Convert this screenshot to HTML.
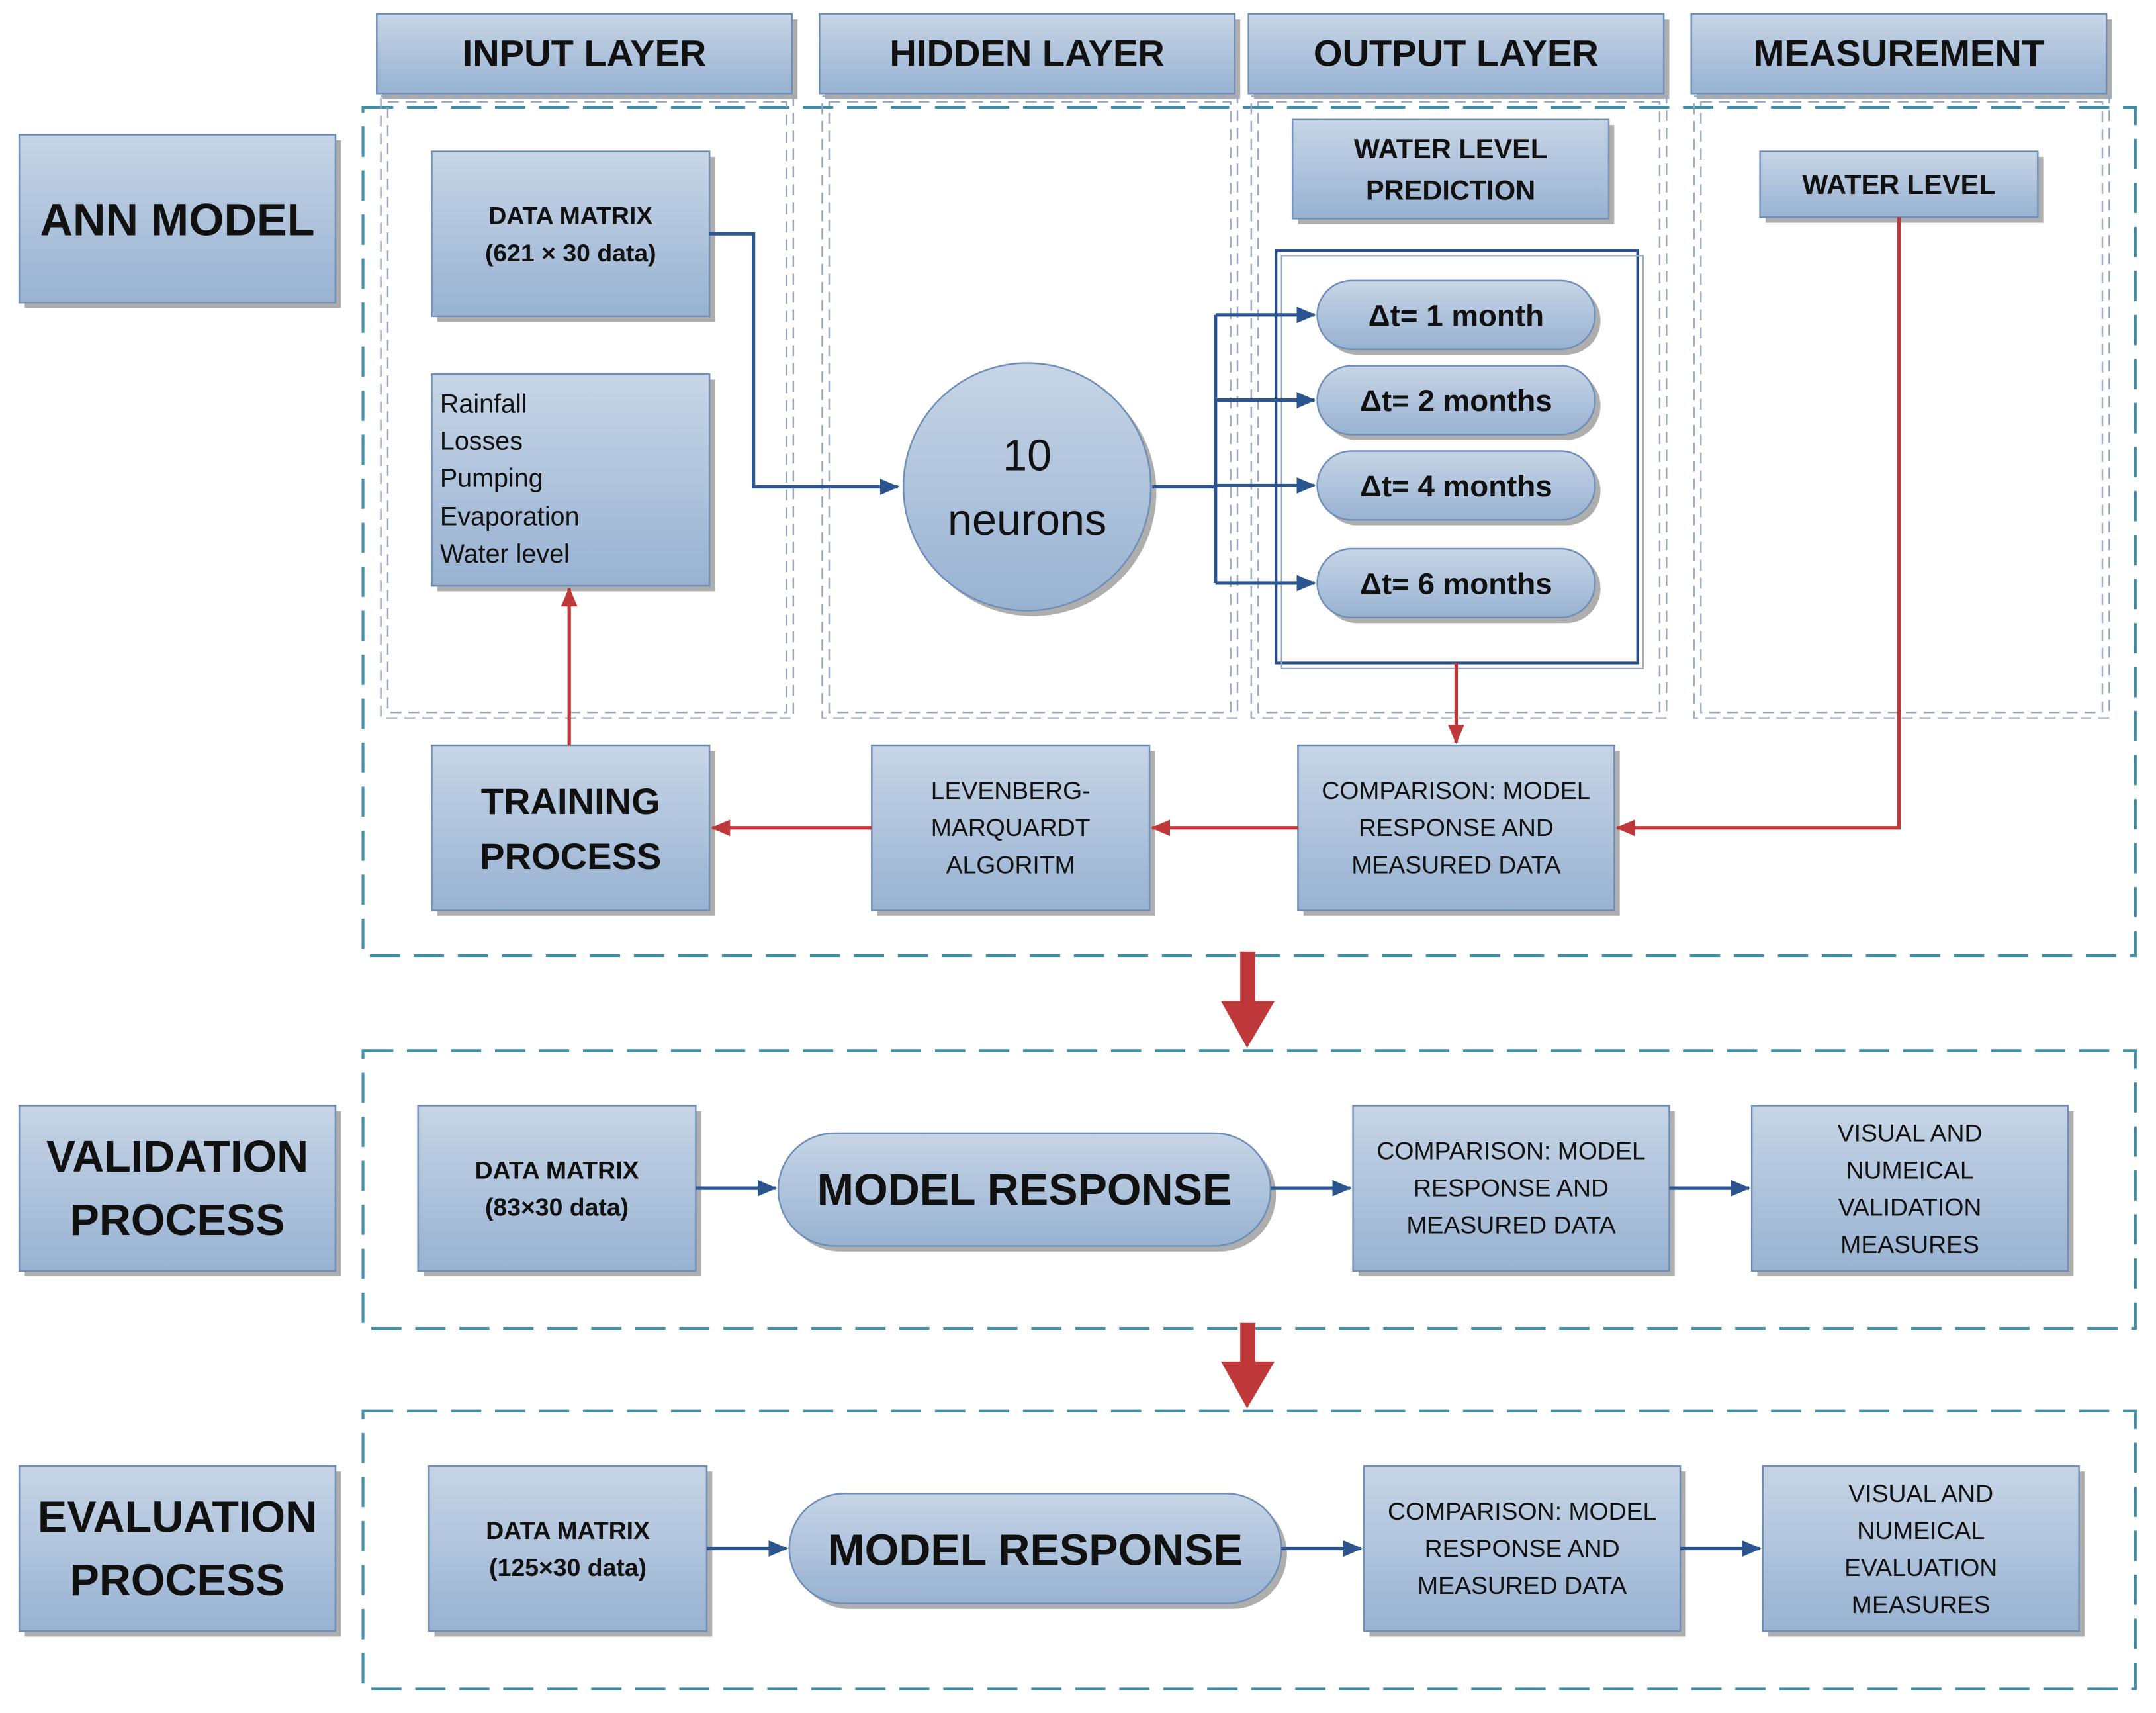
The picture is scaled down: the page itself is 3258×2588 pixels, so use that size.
<!DOCTYPE html>
<html><head><meta charset="utf-8"><style>
html,body{margin:0;padding:0;background:#fff;width:3258px;height:2588px;overflow:hidden}
svg{display:block}
text{font-family:"Liberation Sans",sans-serif;fill:#111;text-anchor:middle}
</style></head><body>
<svg width="3258" height="2588" viewBox="0 0 1568 1245.6" preserveAspectRatio="none" xmlns="http://www.w3.org/2000/svg">
<defs>
<linearGradient id="g" x1="0" y1="0" x2="0" y2="1"><stop offset="0" stop-color="#c7d5e6"/><stop offset="1" stop-color="#98b2d2"/></linearGradient>
<marker id="ab" markerWidth="14" markerHeight="12" refX="13" refY="6" orient="auto" markerUnits="userSpaceOnUse"><path d="M0,0 L14,6 L0,12 Z" fill="#2c5590"/></marker>
<marker id="ar" markerWidth="14" markerHeight="12" refX="13" refY="6" orient="auto" markerUnits="userSpaceOnUse"><path d="M0,0 L14,6 L0,12 Z" fill="#c0393a"/></marker>
</defs>
<g fill="#9a9a9a" opacity="0.8">
<rect x="278" y="14" width="302" height="58"/><rect x="600" y="14" width="302" height="58"/><rect x="912" y="14" width="302" height="58"/><rect x="1234" y="14" width="302" height="58"/>
<rect x="18" y="102" width="230" height="122"/>
<rect x="318" y="114" width="202" height="120"/><rect x="318" y="276" width="202" height="154"/>
<rect x="944" y="91" width="230" height="72"/><rect x="1284" y="114" width="202" height="48"/>
<rect x="318" y="546" width="202" height="120"/><rect x="638" y="546" width="202" height="120"/><rect x="948" y="546" width="230" height="120"/>
<rect x="18" y="808" width="230" height="120"/><rect x="308" y="808" width="202" height="120"/><rect x="988" y="808" width="230" height="120"/><rect x="1278" y="808" width="230" height="120"/>
<rect x="18" y="1070" width="230" height="120"/><rect x="316" y="1070" width="202" height="120"/><rect x="996" y="1070" width="230" height="120"/><rect x="1286" y="1070" width="230" height="120"/>
<circle cx="751" cy="358" r="90"/>
<rect x="962" y="208" width="202" height="50" rx="25"/><rect x="962" y="270" width="202" height="50" rx="25"/><rect x="962" y="332" width="202" height="50" rx="25"/><rect x="962" y="403" width="202" height="50" rx="25"/>
<rect x="570" y="828" width="358" height="82" rx="41"/><rect x="578" y="1090" width="358" height="80" rx="40"/>
</g>
<g fill="url(#g)" stroke="#6f8fb8" stroke-width="1.2">
<rect x="274" y="10" width="302" height="58"/><rect x="596" y="10" width="302" height="58"/><rect x="908" y="10" width="302" height="58"/><rect x="1230" y="10" width="302" height="58"/>
<rect x="14" y="98" width="230" height="122"/>
<rect x="314" y="110" width="202" height="120"/><rect x="314" y="272" width="202" height="154"/>
<rect x="940" y="87" width="230" height="72"/><rect x="1280" y="110" width="202" height="48"/>
<rect x="314" y="542" width="202" height="120"/><rect x="634" y="542" width="202" height="120"/><rect x="944" y="542" width="230" height="120"/>
<rect x="14" y="804" width="230" height="120"/><rect x="304" y="804" width="202" height="120"/><rect x="984" y="804" width="230" height="120"/><rect x="1274" y="804" width="230" height="120"/>
<rect x="14" y="1066" width="230" height="120"/><rect x="312" y="1066" width="202" height="120"/><rect x="992" y="1066" width="230" height="120"/><rect x="1282" y="1066" width="230" height="120"/>
<circle cx="747" cy="354" r="90"/>
<rect x="958" y="204" width="202" height="50" rx="25"/><rect x="958" y="266" width="202" height="50" rx="25"/><rect x="958" y="328" width="202" height="50" rx="25"/><rect x="958" y="399" width="202" height="50" rx="25"/>
<rect x="566" y="824" width="358" height="82" rx="41"/><rect x="574" y="1086" width="358" height="80" rx="40"/>
</g>
<g fill="none" stroke="#3f8fa8" stroke-width="2" stroke-dasharray="22 10">
<rect x="264" y="78" width="1289" height="617"/>
<rect x="264" y="764" width="1289" height="202"/>
<rect x="264" y="1026" width="1289" height="202"/>
</g>
<g fill="none" stroke="#9aabc2" stroke-width="1.2" stroke-dasharray="8 5">
<rect x="277" y="70" width="300" height="452"/><rect x="282" y="74" width="290" height="444"/>
<rect x="598" y="70" width="302" height="452"/><rect x="603" y="74" width="292" height="444"/>
<rect x="910" y="70" width="302" height="452"/><rect x="915" y="74" width="292" height="444"/>
<rect x="1232" y="70" width="302" height="452"/><rect x="1237" y="74" width="292" height="444"/>
</g>
<rect x="928" y="182" width="263" height="300" fill="none" stroke="#2c4f8c" stroke-width="2"/>
<rect x="932" y="186" width="263" height="300" fill="none" stroke="#9aabc2" stroke-width="1"/>
<g fill="none" stroke="#2c5590" stroke-width="2.5">
<path d="M516,170 H548 V354 H653" marker-end="url(#ab)"/>
<path d="M838,354 H884"/>
<path d="M884,229 V424"/>
<path d="M884,229 H956" marker-end="url(#ab)"/>
<path d="M884,291 H956" marker-end="url(#ab)"/>
<path d="M884,353 H956" marker-end="url(#ab)"/>
<path d="M884,424 H956" marker-end="url(#ab)"/>
<path d="M506,864 H564" marker-end="url(#ab)"/>
<path d="M924,864 H982" marker-end="url(#ab)"/>
<path d="M1214,864 H1272" marker-end="url(#ab)"/>
<path d="M514,1126 H572" marker-end="url(#ab)"/>
<path d="M932,1126 H990" marker-end="url(#ab)"/>
<path d="M1222,1126 H1280" marker-end="url(#ab)"/>
</g>
<g fill="none" stroke="#c0393a" stroke-width="2.5">
<path d="M1059,482 V540" marker-end="url(#ar)"/>
<path d="M1381,158 V602 H1176" marker-end="url(#ar)"/>
<path d="M944,602 H838" marker-end="url(#ar)"/>
<path d="M634,602 H518" marker-end="url(#ar)"/>
<path d="M414,542 V428" marker-end="url(#ar)"/>
</g>
<g fill="#c0393a">
<rect x="902" y="692" width="11" height="42"/><path d="M888,728 L927,728 L907,762 Z"/>
<rect x="902" y="962" width="11" height="34"/><path d="M888,990 L927,990 L907,1024 Z"/>
</g>
<g font-weight="bold">
<text x="425" y="48" font-size="27">INPUT LAYER</text>
<text x="747" y="48" font-size="27">HIDDEN LAYER</text>
<text x="1059" y="48" font-size="27">OUTPUT LAYER</text>
<text x="1381" y="48" font-size="27">MEASUREMENT</text>
<text x="129" y="171" font-size="33">ANN MODEL</text>
<text x="415" y="163" font-size="18">DATA MATRIX</text>
<text x="415" y="190" font-size="18">(621 × 30 data)</text>
<text x="1055" y="115" font-size="20">WATER LEVEL</text>
<text x="1055" y="145" font-size="20">PREDICTION</text>
<text x="1381" y="141" font-size="20">WATER LEVEL</text>
<text x="1059" y="237" font-size="22">Δt= 1 month</text>
<text x="1059" y="299" font-size="22">Δt= 2 months</text>
<text x="1059" y="361" font-size="22">Δt= 4 months</text>
<text x="1059" y="432" font-size="22">Δt= 6 months</text>
<text x="415" y="592" font-size="27">TRAINING</text>
<text x="415" y="632" font-size="27">PROCESS</text>
<text x="129" y="852" font-size="32">VALIDATION</text>
<text x="129" y="898" font-size="32">PROCESS</text>
<text x="405" y="857" font-size="18">DATA MATRIX</text>
<text x="405" y="884" font-size="18">(83×30 data)</text>
<text x="745" y="876" font-size="32">MODEL RESPONSE</text>
<text x="129" y="1114" font-size="32">EVALUATION</text>
<text x="129" y="1160" font-size="32">PROCESS</text>
<text x="413" y="1119" font-size="18">DATA MATRIX</text>
<text x="413" y="1146" font-size="18">(125×30 data)</text>
<text x="753" y="1138" font-size="32">MODEL RESPONSE</text>
</g>
<text x="747" y="342" font-size="32">10</text>
<text x="747" y="389" font-size="32">neurons</text>
<g font-size="19">
<text x="320" y="300" style="text-anchor:start">Rainfall</text>
<text x="320" y="327" style="text-anchor:start">Losses</text>
<text x="320" y="354" style="text-anchor:start">Pumping</text>
<text x="320" y="382" style="text-anchor:start">Evaporation</text>
<text x="320" y="409" style="text-anchor:start">Water level</text>
</g>
<g font-size="18">
<text x="735" y="581">LEVENBERG-</text><text x="735" y="608">MARQUARDT</text><text x="735" y="635">ALGORITM</text>
<text x="1059" y="581">COMPARISON: MODEL</text><text x="1059" y="608">RESPONSE AND</text><text x="1059" y="635">MEASURED DATA</text>
<text x="1099" y="843">COMPARISON: MODEL</text><text x="1099" y="870">RESPONSE AND</text><text x="1099" y="897">MEASURED DATA</text>
<text x="1389" y="830">VISUAL AND</text><text x="1389" y="857">NUMEICAL</text><text x="1389" y="884">VALIDATION</text><text x="1389" y="911">MEASURES</text>
<text x="1107" y="1105">COMPARISON: MODEL</text><text x="1107" y="1132">RESPONSE AND</text><text x="1107" y="1159">MEASURED DATA</text>
<text x="1397" y="1092">VISUAL AND</text><text x="1397" y="1119">NUMEICAL</text><text x="1397" y="1146">EVALUATION</text><text x="1397" y="1173">MEASURES</text>
</g>
</svg>
</body></html>
